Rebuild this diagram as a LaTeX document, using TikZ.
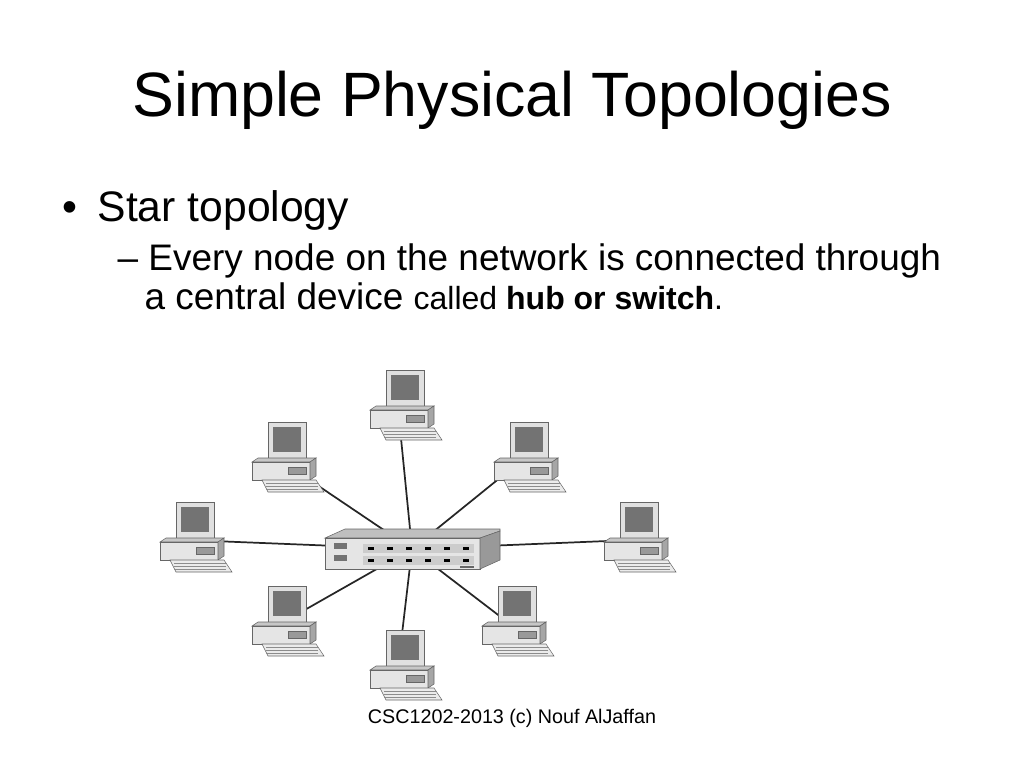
\documentclass[tikz,border=0pt]{standalone}
\usepackage{fontspec}
\setmainfont{Liberation Sans}
\begin{document}
\begin{tikzpicture}[x=0.75pt,y=-0.75pt,
  wire/.style={line width=1.3pt,black!85},
  part/.style={draw=black!60,line width=0.4pt},
  pc/.pic={
    % monitor
    \fill[part,fill=black!12] (-12,-38) rectangle (26,-2);
    \fill[black!55] (-7,-33) rectangle (21,-8);
    \fill[part,fill=black!20] (-4,-2) rectangle (18,2);
    % case
    \fill[part,fill=black!22] (-28,2) -- (-22,-2) -- (36,-2) -- (30,2) -- cycle;
    \fill[part,fill=black!10] (-28,2) rectangle (30,20);
    \fill[part,fill=black!35] (30,2) -- (36,-2) -- (36,16) -- (30,20) -- cycle;
    \fill[part,fill=black!40] (8,7) rectangle (26,14);
    % keyboard
    \fill[part,fill=black!8] (-18,20) -- (36,20) -- (44,32) -- (-12,32) -- cycle;
    \foreach \k in {23,26,29} \draw[black!45] (-14,\k) -- (38,\k);
  }]
\useasboundingbox (0,0) rectangle (1024,768);
\node[font=\fontsize{47}{56}\selectfont] (title) at (512,100) {Simple Physical Topologies};
\node[anchor=base west,font=\fontsize{32}{38}\selectfont] (b1) at (58,221) {•\hspace{15pt}Star topology};
\node[anchor=base west,font=\fontsize{27.7}{33}\selectfont] (b2) at (113,270)
  {– Every node on the network is connected through};
\node[anchor=base west,font=\fontsize{27.7}{33}\selectfont] (b3) at (140,309)
  {a central device {\fontsize{24}{29}\selectfont called \textbf{hub or switch}.}};
\node[font=\fontsize{14.8}{18}\selectfont] (foot) at (512,718) {CSC1202-2013 (c) Nouf AlJaffan};
% computers
\coordinate (hub) at (412,549);
\coordinate (c1) at (398,408);
\coordinate (c2) at (280,460);
\coordinate (c3) at (522,460);
\coordinate (c4) at (188,540);
\coordinate (c5) at (632,540);
\coordinate (c6) at (280,624);
\coordinate (c7) at (510,624);
\coordinate (c8) at (398,668);
\foreach \c in {c1,c2,c3,c4,c5,c6,c7,c8} \draw[wire] (hub) -- (\c);
\foreach \c in {c1,c2,c3,c4,c5,c6,c7,c8} \pic at (\c) {pc};
% hub
\fill[part,fill=black!25] (325,538) -- (345,529) -- (500,529) -- (500,531) -- (480,538) -- cycle;
\fill[part,fill=black!10] (325,538) rectangle (480,569);
\fill[part,fill=black!40] (480,538) -- (500,531) -- (500,560) -- (480,569) -- cycle;
\fill[black!55] (334,543) rectangle (347,549);
\fill[black!55] (334,555) rectangle (347,561);
\fill[black!20] (363,544) rectangle (474,553);
\fill[black!20] (363,556) rectangle (474,565);
\foreach \i in {0,...,5} {
  \fill[black] (368+\i*19,547) rectangle (374+\i*19,550);
  \fill[black] (368+\i*19,559) rectangle (374+\i*19,562);
}
\fill[black!60] (460,566) rectangle (474,568);
\end{tikzpicture}
\end{document}
